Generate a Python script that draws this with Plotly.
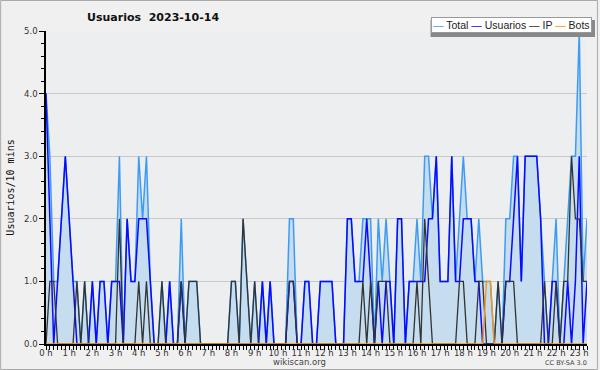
import plotly.graph_objects as go
import pandas as pd

# 10-minute slots of 2023-10-14 (00:00 .. 23:20)
times = pd.date_range("2023-10-14 00:00", periods=141, freq="10min")

total = [4, 3, 1, 1, 2, 3, 2, 1, 1, 0, 1, 0, 1, 0, 1, 1, 0, 1, 1, 3,
         0, 2, 1, 1, 3, 2, 3, 1, 0, 0, 1, 0, 1, 0, 0, 2, 0, 1, 1, 1,
         0, 0, 0, 0, 0, 0, 0, 0, 1, 1, 0, 2, 1, 0, 1, 0, 1, 0, 1, 0,
         0, 0, 0, 2, 2, 0, 0, 1, 1, 0, 0, 1, 1, 1, 1, 0, 0, 0, 2, 2,
         1, 1, 2, 2, 2, 0, 2, 1, 2, 1, 0, 2, 2, 0, 1, 1, 2, 1, 3, 3,
         2, 3, 1, 1, 1, 3, 1, 2, 3, 2, 2, 1, 2, 1, 1, 1, 0, 1, 0, 2,
         2, 3, 3, 1, 3, 3, 3, 3, 2, 1, 0, 1, 2, 0, 1, 2, 3, 3, 5, 1,
         2]

usuarios = [4, 2, 0, 1, 2, 3, 2, 1, 0, 0, 0, 0, 1, 0, 1, 1, 0, 1, 1, 1,
            0, 2, 1, 1, 2, 2, 2, 1, 0, 0, 0, 0, 1, 0, 0, 1, 0, 0, 0, 0,
            0, 0, 0, 0, 0, 0, 0, 0, 0, 0, 0, 0, 0, 0, 0, 0, 1, 0, 1, 0,
            0, 0, 0, 1, 1, 0, 0, 1, 1, 0, 0, 1, 1, 1, 1, 0, 0, 0, 2, 2,
            1, 1, 1, 2, 1, 0, 1, 0, 1, 1, 0, 2, 2, 0, 1, 1, 1, 1, 1, 2,
            2, 3, 1, 1, 1, 3, 1, 1, 2, 2, 2, 1, 1, 0, 0, 0, 0, 0, 0, 1,
            1, 2, 3, 1, 3, 3, 3, 3, 2, 0, 0, 1, 1, 0, 0, 1, 0, 1, 3, 0,
            1]

ip = [0, 1, 1, 0, 0, 0, 0, 0, 1, 0, 1, 0, 0, 0, 0, 0, 0, 0, 0, 2,
      0, 0, 0, 0, 1, 0, 1, 0, 0, 0, 1, 0, 0, 0, 0, 1, 0, 1, 1, 1,
      0, 0, 0, 0, 0, 0, 0, 0, 1, 1, 0, 2, 1, 0, 1, 0, 0, 0, 0, 0,
      0, 0, 0, 1, 1, 0, 0, 0, 0, 0, 0, 0, 0, 0, 0, 0, 0, 0, 0, 0,
      0, 0, 1, 0, 1, 0, 1, 1, 1, 0, 0, 0, 0, 0, 0, 0, 1, 0, 2, 1,
      0, 0, 0, 0, 0, 0, 0, 1, 1, 0, 0, 0, 1, 1, 0, 0, 0, 1, 0, 1,
      1, 1, 0, 0, 0, 0, 0, 0, 0, 1, 0, 0, 1, 0, 1, 1, 3, 2, 2, 1,
      1]

bots = [0] * 114 + [1, 1] + [0] * 25

hour_vals = [f"2023-10-14 {h:02d}:00" for h in range(24)]
hour_text = [f"{h} h" for h in range(24)]

fig = go.Figure()
fig.add_trace(go.Scatter(x=times, y=total, name="Total", mode="lines",
                         line=dict(color="#3d9cf2", width=1.5),
                         fill="tozeroy", fillcolor="#c6dcef"))
fig.add_trace(go.Scatter(x=times, y=usuarios, name="Usuarios", mode="lines",
                         line=dict(color="#0a0aff", width=1.5)))
fig.add_trace(go.Scatter(x=times, y=ip, name="IP", mode="lines",
                         line=dict(color="#333333", width=1.3)))
fig.add_trace(go.Scatter(x=times, y=bots, name="Bots", mode="lines",
                         line=dict(color="#ff9600", width=1.3)))

L, R, T, B = 46, 11, 31, 26
W, H = 600, 370
pw, ph = W - L - R, H - T - B


def px(x):
    return (x - L) / pw


def py(y):
    return (H - B - y) / ph


fig.update_layout(
    width=W, height=H,
    margin=dict(l=L, r=R, t=T, b=B),
    paper_bgcolor="#f0f0f0",
    plot_bgcolor="#edeef0",
    showlegend=False,
    font=dict(family="DejaVu Sans", color="#333333"),
    xaxis=dict(
        type="date",
        range=["2023-10-14 00:00", "2023-10-14 23:20"],
        tickvals=hour_vals, ticktext=hour_text,
        tickfont=dict(size=8.5, color="#333333"),
        ticks="outside", ticklen=4, tickcolor="black", tickwidth=1,
        ticklabelstandoff=-4,
        showline=True, linecolor="black", linewidth=2,
        showgrid=False, zeroline=False,
        minor=dict(dtick=600000, tick0="2023-10-14", ticks="outside",
                   ticklen=4, tickcolor="black", showgrid=False),
        layer="above traces",
    ),
    yaxis=dict(
        range=[0, 5], dtick=1, tickformat=".1f",
        tickfont=dict(size=8.5, color="#333333"),
        ticks="outside", ticklen=5, tickcolor="black",
        showline=True, linecolor="black", linewidth=1.5,
        gridcolor="#c9c9c9", gridwidth=1, zeroline=False,
        minor=dict(dtick=0.2, ticks="outside", ticklen=3,
                   tickcolor="black", showgrid=False),
        layer="above traces",
    ),
)

shapes = [
    # outer frame
    dict(type="rect", xref="paper", yref="paper",
         x0=px(0.5), x1=px(599.5), y0=py(369.5), y1=py(0.5),
         line=dict(color="#aaaaaa", width=1), layer="below"),
    # legend shadow
    dict(type="rect", xref="paper", yref="paper",
         x0=px(432), x1=px(597), y0=py(37), y1=py(20),
         line=dict(width=0), fillcolor="#888888", layer="above"),
]
fig.update_layout(shapes=shapes)

legend_html = ('<span style="color:#3d9cf2">—</span> Total '
               '<span style="color:#0a0aff">—</span> Usuarios '
               '<span style="color:#333333">—</span> IP '
               '<span style="color:#ff9600">—</span> Bots')

annotations = [
    dict(text="<b>Usuarios  2023-10-14</b>", x=px(85), y=py(17),
         xref="paper", yref="paper", xanchor="left", yanchor="middle",
         showarrow=False, font=dict(size=11, color="#111111", family="DejaVu Sans")),
    dict(text="Usuarios/10 mins", x=px(10), y=0.5, xref="paper", yref="paper",
         textangle=-90, showarrow=False, xanchor="center", yanchor="middle",
         font=dict(size=10, family="DejaVu Sans Mono", color="#111111")),
    dict(text=legend_html, x=px(594), y=py(25.5), xref="paper", yref="paper",
         xanchor="right", yanchor="middle", showarrow=False,
         bgcolor="white", bordercolor="#999999", borderwidth=1, borderpad=1,
         font=dict(size=10.5, color="#222222", family="Liberation Sans")),
    dict(text="wikiscan.org", x=px(300), y=py(362), xref="paper", yref="paper",
         showarrow=False, xanchor="center", yanchor="middle",
         font=dict(size=8.5, color="#444444")),
    dict(text="CC BY-SA 3.0", x=px(568), y=py(362.5), xref="paper", yref="paper",
         showarrow=False, xanchor="center", yanchor="middle",
         font=dict(size=6.5, color="#444444")),
]
fig.update_layout(annotations=annotations)

fig.write_html("out.html", config={"displayModeBar": False})

# remove the default page margin so the figure sits at the window's top-left
with open("out.html", encoding="utf-8") as f:
    html = f.read()
html = html.replace("<head>", "<head><style>html,body{margin:0;padding:0;overflow:hidden;}</style>", 1)
with open("out.html", "w", encoding="utf-8") as f:
    f.write(html)
